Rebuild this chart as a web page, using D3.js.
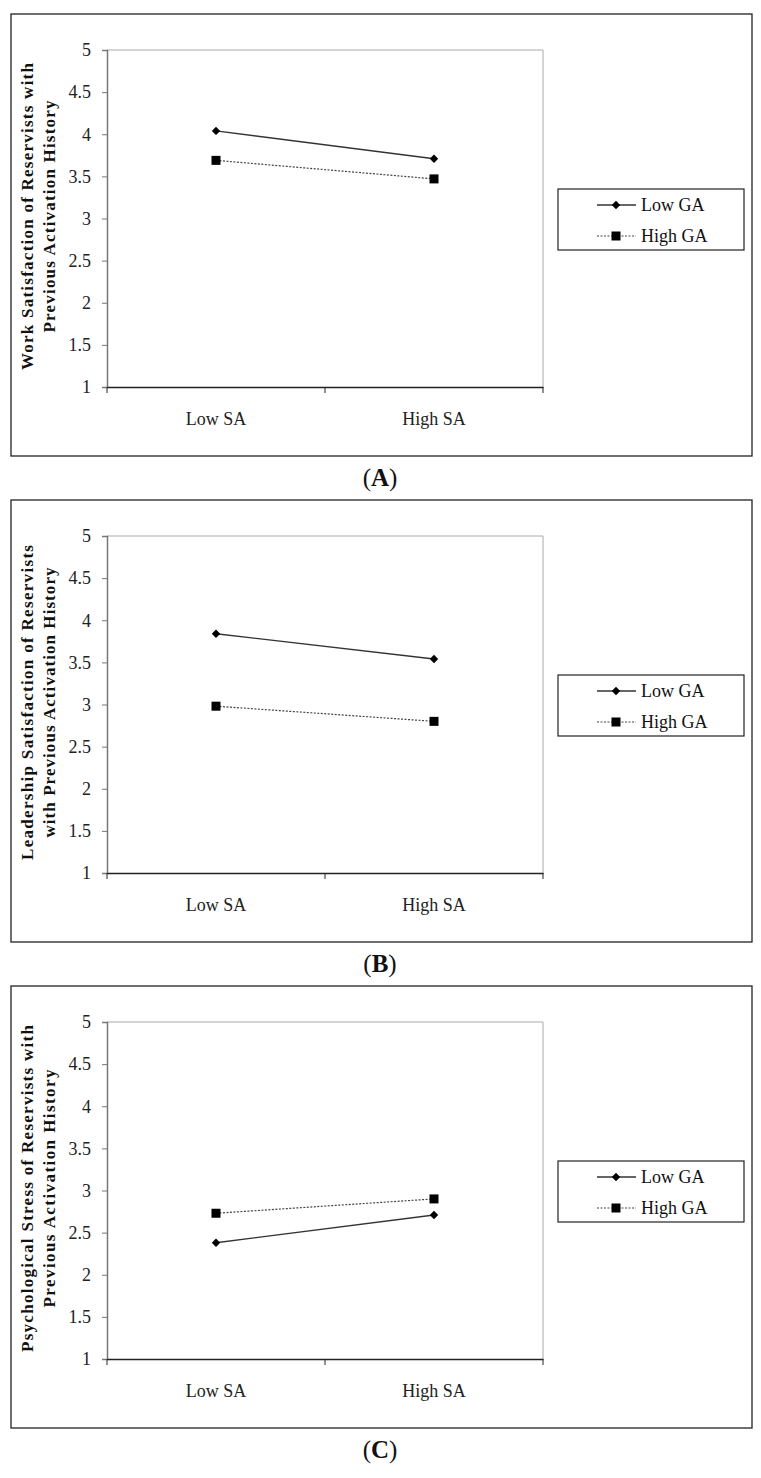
<!DOCTYPE html>
<html><head><meta charset="utf-8">
<script src="https://cdn.jsdelivr.net/npm/d3@7"></script>
<style>body{margin:0;background:#fff}svg{display:block}
svg text{font-family:"Liberation Serif","Times New Roman",Times,"DejaVu Serif",serif;}</style>
</head><body><svg id="c" width="761" height="1478"></svg>
<script>
const categories = ["Low SA", "High SA"];
const seriesNames = ["Low GA", "High GA"];
const yTicks = [1, 1.5, 2, 2.5, 3, 3.5, 4, 4.5, 5];
const lowGA_A = [4.04, 3.71];
const highGA_A = [3.69, 3.47];
const lowGA_B = [3.84, 3.54];
const highGA_B = [2.98, 2.80];
const lowGA_C = [2.38, 2.71];
const highGA_C = [2.73, 2.90];
const titlesA = ["Work Satisfaction of Reservists with", "Previous Activation History"];
const titlesB = ["Leadership Satisfaction of Reservists", "with Previous Activation History"];
const titlesC = ["Psychological Stress of Reservists with", "Previous Activation History"];
const captions = ["A", "B", "C"];

const panels = [
  {top: 14, low: lowGA_A, high: highGA_A, titles: titlesA, lens: [307, 232], cap: captions[0]},
  {top: 500, low: lowGA_B, high: highGA_B, titles: titlesB, lens: [315, 270], cap: captions[1]},
  {top: 986, low: lowGA_C, high: highGA_C, titles: titlesC, lens: [327, 238], cap: captions[2]}
];

const svg = d3.select("#c");

panels.forEach(p => {
  const g = svg.append("g").attr("transform", `translate(0,${p.top})`);
  g.append("rect").attr("x", 11).attr("y", 0).attr("width", 741).attr("height", 442)
    .attr("fill", "none").attr("stroke", "#222").attr("stroke-width", 1.3);

  const x = d3.scaleBand().domain(categories).range([107, 543]);
  const y = d3.scaleLinear().domain([1, 5]).range([373, 36]);

  g.append("path").attr("d", `M107,${y(5)}H543V${y(1)}`).attr("fill", "none")
    .attr("stroke", "#aaa").attr("stroke-width", 1);

  const ya = g.append("g").attr("transform", "translate(107,0)")
    .call(d3.axisLeft(y).tickValues(yTicks).tickSize(5).tickPadding(11).tickFormat(d3.format("")));
  ya.attr("font-family", null);
  ya.select(".domain").attr("stroke", "#777").attr("stroke-width", 1.5);
  ya.selectAll(".tick line").attr("stroke", "#777");
  ya.selectAll("text").attr("font-size", 18).attr("fill", "#222");

  const xa = g.append("g").attr("transform", `translate(0,${y(1)})`)
    .call(d3.axisBottom(x).tickSize(0).tickPadding(25));
  xa.attr("font-family", null);
  xa.select(".domain").attr("stroke", "#222").attr("stroke-width", 1.3);
  xa.selectAll("text").attr("font-size", 18).attr("fill", "#222");
  const bounds = [x.range()[0], x.range()[0] + x.step(), x.range()[1]];
  g.selectAll(".bt").data(bounds).enter().append("line")
    .attr("x1", d => d).attr("x2", d => d).attr("y1", y(1)).attr("y2", y(1) + 6)
    .attr("stroke", "#222").attr("stroke-width", 1);

  const cx = d => x(d) + x.bandwidth() / 2;
  const line = d3.line().x((d, i) => cx(categories[i])).y(d => y(d));
  g.append("path").datum(p.high).attr("d", line).attr("fill", "none")
    .attr("stroke", "#444").attr("stroke-width", 1.2).attr("stroke-dasharray", "2,1.5");
  g.append("path").datum(p.low).attr("d", line).attr("fill", "none")
    .attr("stroke", "#333").attr("stroke-width", 1.4);
  const diamond = d3.symbol().type(d3.symbolDiamond2).size(45);
  g.selectAll(".dm").data(p.low).enter().append("path")
    .attr("transform", (d, i) => `translate(${cx(categories[i])},${y(d)})`)
    .attr("d", diamond).attr("fill", "#000");
  g.selectAll(".sq").data(p.high).enter().append("rect")
    .attr("x", (d, i) => cx(categories[i]) - 4.5).attr("y", d => y(d) - 4.5)
    .attr("width", 9).attr("height", 9).attr("fill", "#000");

  const tcy = (y(5) + y(1)) / 2 - 2;
  [27, 49].forEach((tx, k) => {
    g.append("text").attr("transform", `translate(${tx},${tcy}) rotate(-90)`)
      .attr("text-anchor", "middle").attr("dominant-baseline", "central")
      .attr("font-weight", "bold").attr("font-size", 17)
      .attr("textLength", p.lens[k]).attr("lengthAdjust", "spacing")
      .attr("fill", "#111").text(p.titles[k]);
  });

  const lg = g.append("g");
  lg.append("rect").attr("x", 558).attr("y", 175).attr("width", 186).attr("height", 61)
    .attr("fill", "#fff").attr("stroke", "#222").attr("stroke-width", 1.2);
  const ly = [191, 222];
  seriesNames.forEach((s, i) => {
    lg.append("line").attr("x1", 597).attr("x2", 636).attr("y1", ly[i]).attr("y2", ly[i])
      .attr("stroke", i === 0 ? "#333" : "#444").attr("stroke-width", i === 0 ? 1.4 : 1.2)
      .attr("stroke-dasharray", i === 0 ? null : "2,1.5");
    if (i === 0) lg.append("path").attr("transform", `translate(616,${ly[i]})`).attr("d", diamond).attr("fill", "#000");
    else lg.append("rect").attr("x", 611.5).attr("y", ly[i] - 4.5).attr("width", 9).attr("height", 9).attr("fill", "#000");
    lg.append("text").attr("x", 641).attr("y", ly[i]).attr("dominant-baseline", "central")
      .attr("font-size", 18).attr("fill", "#111").text(s);
  });

  const cp = g.append("text").attr("x", 380).attr("y", 472).attr("text-anchor", "middle")
    .attr("font-size", 25).attr("fill", "#111");
  cp.append("tspan").text("(");
  cp.append("tspan").attr("font-weight", "bold").text(p.cap);
  cp.append("tspan").text(")");
});
</script></body></html>
